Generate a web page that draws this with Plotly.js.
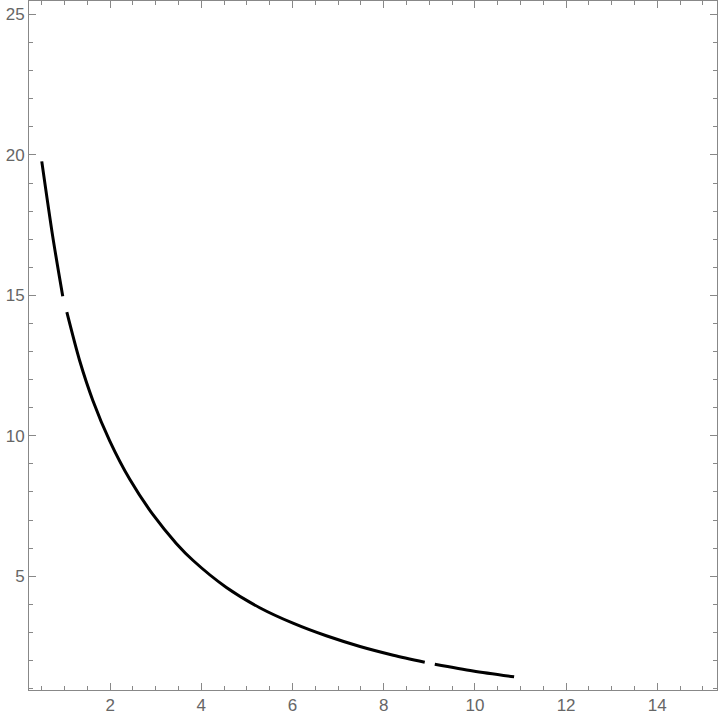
<!DOCTYPE html>
<html>
<head>
<meta charset="utf-8">
<script src="https://cdn.plot.ly/plotly-3.0.1.min.js"></script>
<style>
  html, body { margin: 0; padding: 0; background: #fff; }
  #plot { width: 720px; height: 724px; }
</style>
</head>
<body>
<div id="plot"></div>
<script>
// Curve values; null marks the two gaps in the line
var xValues = [0.50, 0.74, 0.96, null,
               1.05, 1.33, 1.62, 1.99, 2.43, 2.94, 3.45, 3.82, 4.55, 5.28, 6.01, 6.74, 7.48, 8.21, 8.90, null,
               9.12, 9.96, 10.86];
var yValues = [19.77, 17.10, 14.97, null,
               14.40, 12.68, 11.26, 9.82, 8.45, 7.19, 6.17, 5.56, 4.60, 3.88, 3.33, 2.88, 2.50, 2.19, 1.94, null,
               1.87, 1.63, 1.42];

var xTicks = [2, 4, 6, 8, 10, 12, 14];
var yTicks = [5, 10, 15, 20, 25];

var frameColor = '#888888';
var labelFont = { family: 'Liberation Sans, Arial, sans-serif', size: 17, color: '#666666' };

var curve = {
    x: xValues,
    y: yValues,
    type: 'scatter',
    mode: 'lines',
    line: { color: 'black', width: 3, shape: 'spline', smoothing: 0.8 },
    connectgaps: false,
    hoverinfo: 'skip'
};

// Frame axis with inward ticks on all four sides, like a Mathematica frame
function frameAxis(range, ticks, minorStep) {
    return {
        range: range,
        tickmode: 'array',
        tickvals: ticks,
        ticktext: ticks.map(String),
        ticks: 'inside',
        ticklen: 7,
        tickwidth: 1,
        tickcolor: frameColor,
        minor: { tick0: 0, dtick: minorStep, ticks: 'inside', ticklen: 4, tickwidth: 1, tickcolor: frameColor, showgrid: false },
        showline: true,
        linecolor: frameColor,
        linewidth: 1,
        mirror: 'allticks',
        showgrid: false,
        zeroline: false,
        tickfont: labelFont
    };
}

var layout = {
    width: 720,
    height: 724,
    margin: { l: 29, r: 3, t: 1, b: 34 },
    paper_bgcolor: 'white',
    plot_bgcolor: 'white',
    showlegend: false,
    xaxis: frameAxis([0.22, 15.31], xTicks, 0.5),
    yaxis: frameAxis([0.95, 25.48], yTicks, 1)
};

Plotly.newPlot('plot', [curve], layout, { displayModeBar: false, staticPlot: true });
</script>
</body>
</html>
